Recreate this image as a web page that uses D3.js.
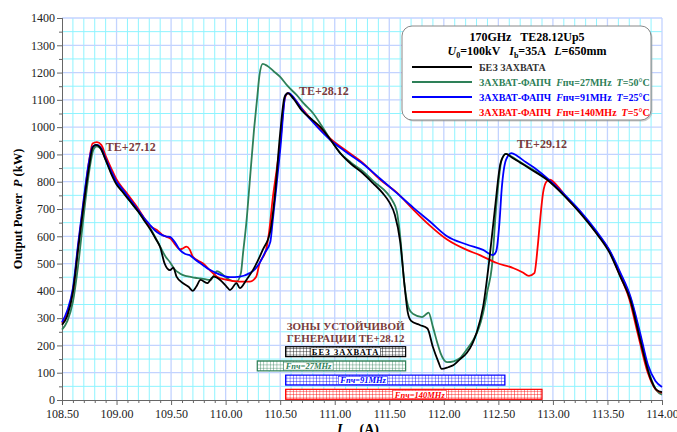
<!DOCTYPE html>
<html>
<head>
<meta charset="utf-8">
<script src="https://cdn.jsdelivr.net/npm/d3@7"></script>
<style>
  body { margin: 0; background: #fff; }
  text { font-family: "Liberation Serif", "Times New Roman", serif; }
</style>
</head>
<body>
<div id="chart"></div>
<script>
// measured curves: [current A, power kW]
var noLock = [[108.50,275],[108.55,310],[108.60,395],[108.65,560],[108.70,720],[108.75,860],[108.78,925],[108.81,935],[108.85,925],[108.90,880],[108.95,830],[109.00,790],[109.05,765],[109.10,740],[109.15,715],[109.20,690],[109.25,660],[109.31,625],[109.36,590],[109.40,560],[109.44,501],[109.49,476],[109.52,485],[109.55,452],[109.61,428],[109.66,415],[109.70,400],[109.73,415],[109.77,440],[109.83,428],[109.89,452],[109.95,440],[110.01,415],[110.04,403],[110.10,428],[110.13,410],[110.19,440],[110.25,476],[110.34,550],[110.41,620],[110.45,745],[110.50,978],[110.54,1110],[110.57,1125],[110.62,1105],[110.70,1060],[110.80,1025],[110.87,1000],[110.95,960],[111.05,905],[111.15,865],[111.26,830],[111.35,795],[111.44,758],[111.50,725],[111.55,680],[111.60,580],[111.64,420],[111.67,320],[111.70,290],[111.78,275],[111.85,262],[111.90,194],[111.95,140],[111.98,114],[112.04,120],[112.09,128],[112.15,150],[112.21,172],[112.26,205],[112.30,246],[112.36,341],[112.42,524],[112.47,707],[112.52,868],[112.57,902],[112.62,890],[112.70,870],[112.80,845],[112.95,806],[113.10,750],[113.25,685],[113.40,610],[113.52,539],[113.62,450],[113.71,366],[113.80,220],[113.89,84],[113.95,37],[114.00,29]];

var lock27 = [[108.50,258],[108.55,290],[108.60,360],[108.65,500],[108.70,680],[108.75,840],[108.79,920],[108.82,930],[108.86,918],[108.90,880],[108.95,835],[109.00,795],[109.05,768],[109.10,742],[109.15,715],[109.20,690],[109.25,662],[109.30,636],[109.35,600],[109.40,562],[109.45,525],[109.49,505],[109.53,480],[109.58,464],[109.63,455],[109.67,452],[109.72,448],[109.77,446],[109.82,442],[109.86,440],[109.90,462],[109.92,472],[109.96,464],[110.00,450],[110.04,440],[110.10,434],[110.14,465],[110.16,540],[110.19,650],[110.22,795],[110.26,990],[110.29,1110],[110.31,1190],[110.34,1232],[110.38,1225],[110.44,1205],[110.50,1184],[110.57,1150],[110.65,1118],[110.72,1085],[110.80,1052],[110.88,1005],[110.96,955],[111.05,905],[111.15,870],[111.26,838],[111.36,800],[111.48,758],[111.53,730],[111.57,690],[111.60,600],[111.64,420],[111.68,335],[111.72,315],[111.80,304],[111.84,315],[111.86,320],[111.90,268],[111.94,210],[111.97,172],[112.03,139],[112.09,142],[112.15,154],[112.21,185],[112.27,220],[112.32,262],[112.36,319],[112.40,400],[112.44,487],[112.48,707],[112.53,880],[112.57,902],[112.62,892],[112.70,872],[112.80,848],[112.95,808],[113.10,752],[113.25,688],[113.40,612],[113.52,545],[113.62,460],[113.71,375],[113.80,235],[113.89,90],[113.95,35],[114.00,20]];

var lock91 = [[108.50,285],[108.55,330],[108.60,410],[108.65,580],[108.70,740],[108.75,880],[108.78,928],[108.82,935],[108.86,922],[108.90,885],[108.95,840],[109.00,800],[109.05,775],[109.10,748],[109.15,722],[109.20,695],[109.25,668],[109.30,645],[109.35,622],[109.40,608],[109.45,600],[109.49,598],[109.54,575],[109.58,550],[109.63,535],[109.67,531],[109.72,515],[109.79,495],[109.85,478],[109.92,464],[109.98,455],[110.04,450],[110.13,452],[110.22,465],[110.27,480],[110.31,501],[110.36,540],[110.41,580],[110.43,650],[110.47,800],[110.50,916],[110.55,1118],[110.58,1125],[110.63,1105],[110.70,1065],[110.80,1018],[110.96,953],[111.10,910],[111.26,865],[111.42,810],[111.57,758],[111.72,705],[111.87,655],[112.03,600],[112.21,570],[112.36,550],[112.45,531],[112.48,545],[112.51,650],[112.53,770],[112.57,880],[112.62,905],[112.67,895],[112.75,872],[112.85,845],[112.95,812],[113.10,755],[113.25,692],[113.40,618],[113.52,548],[113.62,465],[113.71,380],[113.80,245],[113.87,130],[113.94,70],[114.00,48]];

var lock140 = [[108.50,280],[108.55,320],[108.60,400],[108.65,570],[108.70,730],[108.75,880],[108.78,940],[108.82,945],[108.86,935],[108.90,895],[108.95,850],[109.00,808],[109.05,780],[109.10,755],[109.15,728],[109.20,700],[109.24,675],[109.30,640],[109.37,623],[109.42,605],[109.46,598],[109.50,590],[109.54,568],[109.58,552],[109.61,556],[109.64,562],[109.67,552],[109.70,525],[109.79,501],[109.85,478],[109.92,452],[110.01,440],[110.13,434],[110.22,434],[110.28,452],[110.31,500],[110.37,550],[110.40,620],[110.43,733],[110.47,850],[110.50,941],[110.54,1100],[110.57,1125],[110.62,1108],[110.70,1068],[110.80,1022],[110.96,958],[111.10,915],[111.26,868],[111.41,810],[111.57,760],[111.72,698],[111.87,640],[112.03,588],[112.21,550],[112.33,531],[112.48,503],[112.64,483],[112.72,468],[112.78,455],[112.83,465],[112.86,560],[112.88,648],[112.91,760],[112.94,800],[112.97,808],[113.05,780],[113.15,730],[113.25,690],[113.40,612],[113.52,545],[113.60,470],[113.70,370],[113.78,240],[113.87,100],[113.94,40],[114.00,26]];

// series styling / legend text
var seriesNames = ["БЕЗ ЗАХВАТА", "ЗАХВАТ-ФАПЧ", "ЗАХВАТ-ФАПЧ", "ЗАХВАТ-ФАПЧ"];
var seriesFreq = ["", "27MHz", "91MHz", "140MHz"];
var seriesTemp = ["", "50°C", "25°C", "5°C"];
var seriesColors = ["#000000", "#2e8058", "#0000ff", "#ff0000"];

// zones of stable generation TE+28.12: [start A, end A, label, label centre A]
var zoneStart = [110.55, 110.29, 110.55, 110.55];
var zoneEnd = [111.65, 111.65, 112.56, 112.90];
var zoneLabels = ["БЕЗ ЗАХВАТА", "Fпч=27MHz", "Fпч=91MHz", "Fпч=140MHz"];
var zoneLabelAt = [111.10, 110.76, 111.26, 111.78];

// mode labels
var modeNames = ["TE+27.12", "TE+28.12", "TE+29.12"];
var modeX = [109.13, 110.90, 112.90];
var modeP = [912, 1118, 923];

var svgWidth = 677, svgHeight = 432;
var margin = {top: 18, right: 15, bottom: 32, left: 62};
var width = svgWidth - margin.left - margin.right;
var height = svgHeight - margin.top - margin.bottom;

var svg = d3.select("#chart").append("svg")
    .attr("width", svgWidth)
    .attr("height", svgHeight);

var defs = svg.append("defs");
seriesColors.forEach(function(c, i) {
    var p = defs.append("pattern")
        .attr("id", "hatch" + i)
        .attr("width", 3.3).attr("height", 3.3)
        .attr("patternUnits", "userSpaceOnUse");
    p.append("rect").attr("width", 3.3).attr("height", 3.3).attr("fill", "#fff");
    p.append("path").attr("d", "M0,0H3.3M0,0V3.3")
        .attr("stroke", c).attr("stroke-width", 0.8).attr("fill", "none");
});

var g = svg.append("g").attr("transform", `translate(${margin.left},${margin.top})`);

var x = d3.scaleLinear().domain([108.5, 114]).range([0, width]);
var y = d3.scaleLinear().domain([0, 1400]).range([height, 0]);

// grid
var minorX = d3.range(108.6, 114.0, 0.1).filter(function(v) { return Math.abs(v * 2 - Math.round(v * 2)) > 0.01; });
var majorX = d3.range(109.0, 114.01, 0.5);
var minorY = d3.range(50, 1400, 100);
var majorY = d3.range(100, 1401, 100);

g.selectAll(".gxm").data(minorX).enter().append("line")
    .attr("x1", d => x(d)).attr("x2", d => x(d)).attr("y1", 0).attr("y2", height)
    .attr("stroke", "#8ff4ff").attr("stroke-width", 1);
g.selectAll(".gym").data(minorY).enter().append("line")
    .attr("x1", 0).attr("x2", width).attr("y1", d => y(d)).attr("y2", d => y(d))
    .attr("stroke", "#8ff4ff").attr("stroke-width", 1);
g.selectAll(".gxM").data(majorX).enter().append("line")
    .attr("x1", d => x(d)).attr("x2", d => x(d)).attr("y1", 0).attr("y2", height)
    .attr("stroke", "#c3d3ff").attr("stroke-width", 1.3);
g.selectAll(".gyM").data(majorY).enter().append("line")
    .attr("x1", 0).attr("x2", width).attr("y1", d => y(d)).attr("y2", d => y(d))
    .attr("stroke", "#c3d3ff").attr("stroke-width", 1.3);

// axes
var xAxis = d3.axisBottom(x).tickValues(d3.range(108.5, 114.01, 0.5)).tickFormat(d3.format(".2f")).tickSize(5).tickPadding(4);
var xMinor = d3.axisBottom(x).tickValues(minorX).tickFormat("").tickSize(3);
var yAxis = d3.axisLeft(y).tickValues(d3.range(0, 1401, 100)).tickFormat(d3.format("d")).tickSize(5).tickPadding(2);
var yMinor = d3.axisLeft(y).tickValues(minorY).tickFormat("").tickSize(3);

function styleAxis(sel) {
    sel.select(".domain").attr("stroke", "#666");
    sel.selectAll(".tick line").attr("stroke", "#666");
    sel.selectAll("text").attr("fill", "#222").style("font-size", "12px")
        .style("font-family", "'Liberation Serif', serif");
}
g.append("g").attr("transform", `translate(0,${height})`).call(xMinor).call(styleAxis);
g.append("g").attr("transform", `translate(0,${height})`).call(xAxis).call(styleAxis);
g.append("g").call(yMinor).call(styleAxis);
g.append("g").call(yAxis).call(styleAxis);

// zones
var zones = zoneLabels.map(function(l, i) {
    return {start: zoneStart[i], end: zoneEnd[i], label: l, at: zoneLabelAt[i], color: seriesColors[i], i: i};
});
var band = d3.scaleBand().domain(zoneLabels).range([y(198), y(0)]).paddingInner(0.3).paddingOuter(0.05);

g.selectAll(".zone").data(zones).enter().append("rect")
    .attr("x", d => x(d.start)).attr("width", d => x(d.end) - x(d.start))
    .attr("y", d => band(d.label)).attr("height", band.bandwidth())
    .attr("fill", d => `url(#hatch${d.i})`)
    .attr("stroke", d => d.color).attr("stroke-width", 1.2);

zones.forEach(function(d) {
    var t = g.append("text")
        .attr("x", x(d.at)).attr("y", band(d.label) + band.bandwidth() / 2 + 3.2)
        .attr("text-anchor", "middle")
        .style("font-size", "8.5px").style("font-weight", "bold")
        .attr("fill", d.color);
    if (d.i === 0) {
        t.style("letter-spacing", "1px").text(d.label);
    } else {
        t.style("font-style", "italic");
        t.append("tspan").text("F");
        t.append("tspan").text(d.label.slice(1));
    }
    var bb = t.node().getBBox();
    g.insert("rect", function() { return t.node(); })
        .attr("x", bb.x - 1).attr("y", bb.y + 1).attr("width", bb.width + 2).attr("height", bb.height - 2)
        .attr("fill", "#fff").attr("stroke", d.color).attr("stroke-width", 0.5);
});

g.append("text").attr("x", x(111.10)).attr("y", y(255))
    .attr("text-anchor", "middle").attr("fill", "#7b3b3b")
    .style("font-size", "11px").style("font-weight", "bold").text("ЗОНЫ УСТОЙЧИВОЙ");
g.append("text").attr("x", x(111.10)).attr("y", y(212))
    .attr("text-anchor", "middle").attr("fill", "#7b3b3b")
    .style("font-size", "11px").style("font-weight", "bold").text("ГЕНЕРАЦИИ TE+28.12");

// curves
var line = d3.line().x(d => x(d[0])).y(d => y(d[1])).curve(d3.curveMonotoneX);
var seriesData = [noLock, lock27, lock91, lock140];
var drawOrder = [1, 3, 2, 0];
drawOrder.forEach(function(i) {
    g.append("path").datum(seriesData[i])
        .attr("d", line)
        .attr("fill", "none")
        .attr("stroke", seriesColors[i])
        .attr("stroke-width", 1.8)
        .attr("stroke-linejoin", "round");
});

// mode labels
g.selectAll(".mode").data(modeNames).enter().append("text")
    .attr("x", (d, i) => x(modeX[i])).attr("y", (d, i) => y(modeP[i]))
    .attr("text-anchor", "middle").attr("fill", "#7b3b3b")
    .style("font-size", "12px").style("font-weight", "bold")
    .text(d => d);

// legend
var lg = svg.append("g").attr("transform", "translate(402,26)");
lg.append("rect").attr("x", 1.5).attr("y", 1.5).attr("width", 249).attr("height", 94).attr("rx", 10)
    .attr("fill", "#999").attr("opacity", 0.5);
lg.append("rect").attr("width", 249).attr("height", 94).attr("rx", 10)
    .attr("fill", "#fff").attr("stroke", "#888").attr("stroke-width", 1);
lg.append("text").attr("x", 125).attr("y", 15).attr("text-anchor", "middle")
    .style("font-size", "12px").style("font-weight", "bold")
    .attr("xml:space", "preserve").text("170GHz   TE28.12Up5");
var l2 = lg.append("text").attr("x", 125).attr("y", 29).attr("text-anchor", "middle")
    .style("font-size", "12px").style("font-weight", "bold").attr("xml:space", "preserve");
l2.append("tspan").style("font-style", "italic").text("U");
l2.append("tspan").attr("dy", 3).style("font-size", "8px").text("0");
l2.append("tspan").attr("dy", -3).text("=100kV   ");
l2.append("tspan").style("font-style", "italic").text("I");
l2.append("tspan").attr("dy", 3).style("font-size", "8px").text("b");
l2.append("tspan").attr("dy", -3).text("=35A   ");
l2.append("tspan").style("font-style", "italic").text("L");
l2.append("tspan").text("=650mm");

seriesNames.forEach(function(name, i) {
    var yy = 41 + i * 15;
    lg.append("line").attr("x1", 10).attr("x2", 70).attr("y1", yy).attr("y2", yy)
        .attr("stroke", seriesColors[i]).attr("stroke-width", 1.8);
    var t = lg.append("text").attr("x", 77).attr("y", yy + 3.5)
        .style("font-size", "10px").style("font-weight", "bold")
        .attr("fill", i === 0 ? "#333" : seriesColors[i]).attr("xml:space", "preserve");
    t.append("tspan").text(name);
    if (seriesFreq[i]) {
        t.append("tspan").text("  ");
        t.append("tspan").style("font-style", "italic").text("F");
        t.append("tspan").text("пч=" + seriesFreq[i] + "  ");
        t.append("tspan").style("font-style", "italic").text("T");
        t.append("tspan").text("=" + seriesTemp[i]);
    }
});

// axis titles
var yl = svg.append("text").attr("transform", `translate(22,${margin.top + height / 2}) rotate(-90)`)
    .attr("text-anchor", "middle").style("font-size", "12.5px").style("font-weight", "bold")
    .attr("xml:space", "preserve");
yl.append("tspan").text("Output Power  ");
yl.append("tspan").style("font-style", "italic").text("P");
yl.append("tspan").text(" (kW)");

var xl = svg.append("text").attr("x", 358).attr("y", 434).attr("text-anchor", "middle")
    .style("font-size", "14px").style("font-weight", "bold");
xl.append("tspan").style("font-style", "italic").text("I");
xl.append("tspan").attr("dy", 3).style("font-size", "9px").style("font-style", "italic").text("упр");
xl.append("tspan").attr("dy", -3).text(" (A)");
</script>
</body>
</html>
